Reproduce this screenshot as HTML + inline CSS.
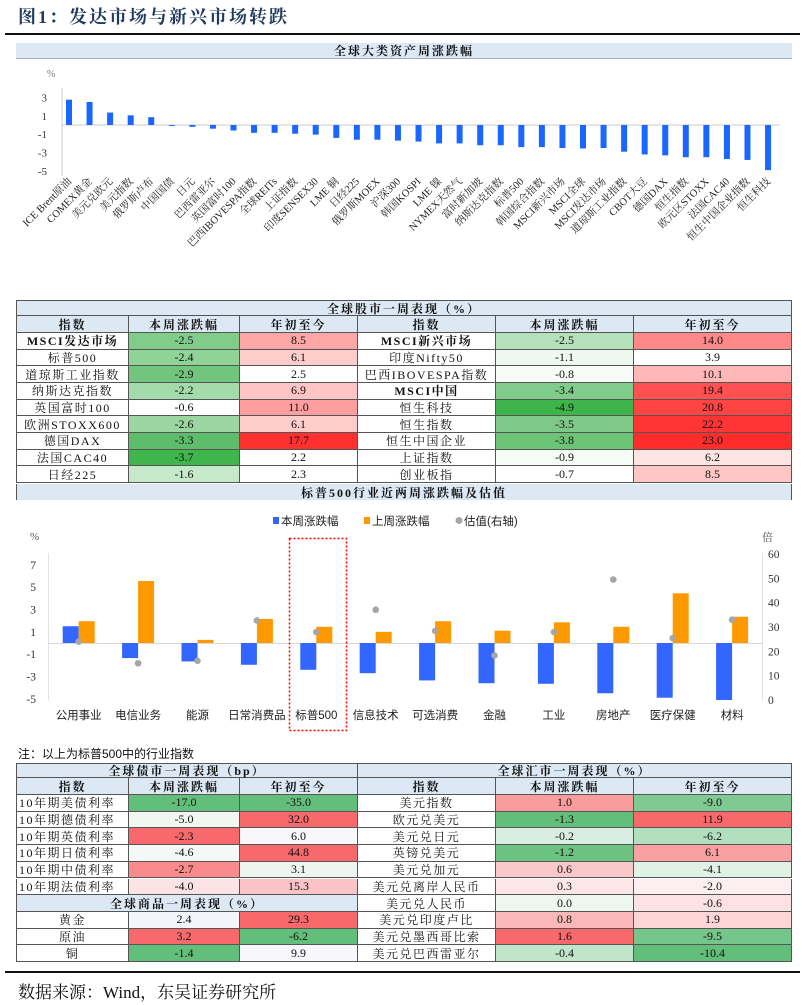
<!DOCTYPE html>
<html><head><meta charset="utf-8">
<style>
body{margin:0;background:#fff;}
#page{position:relative;width:805px;height:1005px;overflow:hidden;background:#fff;font-family:"Liberation Serif","Noto Serif CJK SC",serif;}
.c{position:absolute;box-sizing:border-box;display:flex;align-items:center;justify-content:center;font-size:12px;color:#111;white-space:nowrap;border-right:1px solid #555;border-bottom:1px solid #555;}
.band{background:#dce9f5;font-weight:bold;letter-spacing:2px;font-size:12px;}
.hd{background:#dce9f5;font-weight:bold;letter-spacing:2px;}
.nm{letter-spacing:1.5px;}
svg text{font-family:"Liberation Serif","Noto Serif CJK SC",serif;}
</style></head><body>
<div id="page">
<div style="position:absolute;left:18px;top:3px;font-size:18px;font-weight:bold;color:#1f3a5f;letter-spacing:2px;font-family:'Liberation Serif','Noto Serif CJK SC',serif;">图1：发达市场与新兴市场转跌</div>
<div style="position:absolute;left:5px;top:33px;width:795px;height:2px;background:#111;"></div>
<div class="c band" style="left:16px;top:43px;width:776px;height:16px;border:none;border-bottom:1px solid #aab;">全球大类资产周涨跌幅</div>
<svg id="top" style="position:absolute;left:0;top:0" width="805" height="300"></svg>
<div id="t1"></div>
<svg id="mid" style="position:absolute;left:0;top:0" width="805" height="760"></svg>
<div style="position:absolute;left:18px;top:745px;font-size:12px;font-family:'Liberation Sans','Noto Sans CJK SC',sans-serif;color:#111;">注：以上为标普500中的行业指数</div>
<div id="t2"></div>
<div style="position:absolute;left:5px;top:971px;width:795px;height:2px;background:#111;"></div>
<div style="position:absolute;left:18px;top:978px;font-size:17px;color:#111;font-family:'Liberation Serif','Noto Serif CJK SC',serif;">数据来源：Wind，东吴证券研究所</div>
</div>
<script>
// ---- top chart data ----
const assetNames=["ICE Brent原油","COMEX黄金","美元兑欧元","美元指数","俄罗斯卢布","中国国债","日元","巴西雷亚尔","英国富时100","巴西IBOVESPA指数","全球REITs","上证指数","印度SENSEX30","LME 铜","日经225","俄罗斯MOEX","沪深300","韩国KOSPI","LME 镍","NYMEX天然气","富时新加坡","纳斯达克指数","标普500","韩国综合指数","MSCI新兴市场","MSCI全球","MSCI发达市场","道琼斯工业指数","CBOT大豆","德国DAX","恒生指数","欧元区STOXX","法国CAC40","恒生中国企业指数","恒生科技"];
const assetValues=[2.75,2.5,1.35,1.05,0.85,-0.1,-0.2,-0.4,-0.6,-0.85,-0.85,-0.95,-1.05,-1.4,-1.6,-1.6,-1.7,-1.8,-2.0,-2.0,-2.2,-2.2,-2.4,-2.4,-2.5,-2.55,-2.5,-2.9,-3.2,-3.3,-3.5,-3.5,-3.7,-3.8,-4.9];
const topTicks=[3,1,-1,-3,-5];
// ---- middle chart data ----
const sectors=["公用事业","电信业务","能源","日常消费品","标普500","信息技术","可选消费","金融","工业","房地产","医疗保健","材料"];
const thisWeek=[1.5,-1.35,-1.65,-1.95,-2.4,-2.7,-3.35,-3.6,-3.65,-4.5,-4.9,-5.1];
const lastWeek=[1.95,5.55,0.28,2.15,1.45,1.0,1.95,1.1,1.85,1.45,4.45,2.35];
const valuation=[24,15.1,16.1,32.7,27.9,37.1,28.4,18.3,27.9,49.5,25.4,33];
const leftTicks=[7,5,3,1,-1,-3,-5];
const rightTicks=[60,50,40,30,20,10,0];

const NS="http://www.w3.org/2000/svg";
function mk(p,tag,a){const e=document.createElementNS(NS,tag);for(const k in a)e.setAttribute(k,a[k]);p.appendChild(e);return e;}

// top chart
(function(){
const s=document.getElementById('top');
const y=v=>125-v*9.2, x=i=>69+i*20.56;
let e=mk(s,'line',{x1:62,y1:88,x2:62,y2:176,stroke:'#ccc'});

e=mk(s,'line',{x1:62,y1:125,x2:780,y2:125,stroke:'#ccc'});

e=mk(s,'text',{x:47,y:77,'font-size':10,fill:'#777'});e.textContent='%';

topTicks.forEach(t=>{const tx=mk(s,'text',{x:47,y:y(t)+4,'font-size':11,'text-anchor':'end',fill:'#333'});tx.textContent=t;
});
assetValues.forEach((v,i)=>{
const b=mk(s,'rect',{x:x(i)-3,y:Math.min(y(v),y(0)),width:6,height:Math.abs(y(v)-y(0)),fill:'#1a66ff'});

const t=mk(s,'text',{x:x(i)+3,y:182,'font-size':10.5,'text-anchor':'end',fill:'#222',transform:`rotate(-45 ${x(i)+3} 182)`});
t.textContent=assetNames[i];

});
})();

// cell helper
function cell(par,x,y,w,h,txt,bg,cls,bold){
const d=document.createElement('div');d.className='c '+(cls||'');
d.style.left=x+'px';d.style.top=y+'px';d.style.width=w+'px';d.style.height=h+'px';
if(bg)d.style.background=bg;if(bold)d.style.fontWeight='bold';
d.textContent=txt;


document.getElementById('page').appendChild(d);return d;}

// table 1
const cols=[16,129,240,358,496,634,792];
(function(){
const top=300;
let b=cell(null,16,top,776,16,'全球股市一周表现（%）','#dce9f5','band');b.style.borderLeft='1px solid #555';b.style.borderTop='1px solid #555';

const hdr=['指数','本周涨跌幅','年初至今','指数','本周涨跌幅','年初至今'];
hdr.forEach((h,i)=>{const c=cell(null,cols[i],top+16,cols[i+1]-cols[i],17,h,'#dce9f5','hd');if(i==0)c.style.borderLeft='1px solid #555';});
const rows=[
["MSCI发达市场","-2.5","#80cd8a","8.5","#ffa6a6","MSCI新兴市场","-2.5","#b4e1b9","14.0","#ff8888",1,1],
["标普500","-2.4","#90d397","6.1","#ffcccc","印度Nifty50","-1.1","#eff8f0","3.9","#fff"],
["道琼斯工业指数","-2.9","#72c57d","2.5","#fff","巴西IBOVESPA指数","-0.8","#f8fcf8","10.1","#ffb8b8"],
["纳斯达克指数","-2.2","#a4dbaa","6.9","#ffc4c4","MSCI中国","-3.4","#80cc8a","19.4","#ff5151",0,1],
["英国富时100","-0.6","#fff","11.0","#ff9e9e","恒生科技","-4.9","#3db54a","20.8","#ff4444"],
["欧洲STOXX600","-2.6","#9bd6a1","6.1","#ffcccc","恒生指数","-3.5","#7ec888","22.2","#ff3535"],
["德国DAX","-3.3","#5ebd6a","17.7","#ff3030","恒生中国企业","-3.8","#6cc477","23.0","#ff2c2c"],
["法国CAC40","-3.7","#3fb54c","2.2","#fff","上证指数","-0.9","#f5fbf5","6.2","#ffe4e4"],
["日经225","-1.6","#c6e9ca","2.3","#fff","创业板指","-0.7","#fff","8.5","#ffc6c6"]];
rows.forEach((r,j)=>{const y=top+33+j*16.67;
const a=cell(null,cols[0],y,cols[1]-cols[0],16.67,r[0],'#fff','nm',r[10]);a.style.borderLeft='1px solid #555';
cell(null,cols[1],y,cols[2]-cols[1],16.67,r[1],r[2]);
cell(null,cols[2],y,cols[3]-cols[2],16.67,r[3],r[4]);
cell(null,cols[3],y,cols[4]-cols[3],16.67,r[5],'#fff','nm',r[11]);
cell(null,cols[4],y,cols[5]-cols[4],16.67,r[6],r[7]);
cell(null,cols[5],y,cols[6]-cols[5],16.67,r[8],r[9]);});
b=cell(null,16,484,776,16,'标普500行业近两周涨跌幅及估值','#dce9f5','band');b.style.borderLeft='1px solid #555';b.style.borderBottom='none';

})();

// middle chart
(function(){
const s=document.getElementById('mid');
const y=v=>643-v*11.17, yr=v=>700-v*2.433, xc=i=>49+29.7+i*59.4;
let e=mk(s,'line',{x1:48.5,y1:553,x2:48.5,y2:700,stroke:'#e2e2e2'});

e=mk(s,'line',{x1:762.5,y1:553,x2:762.5,y2:700,stroke:'#e2e2e2'});

e=mk(s,'line',{x1:49,y1:643.5,x2:762,y2:643.5,stroke:'#d8d8d8'});

leftTicks.forEach(t=>{const tx=mk(s,'text',{x:36,y:y(t)+4,'font-size':11.5,'text-anchor':'end',fill:'#333'});tx.textContent=t;
});
rightTicks.forEach(t=>{const tx=mk(s,'text',{x:768,y:yr(t)+4,'font-size':11.5,fill:'#333'});tx.textContent=t;
});
e=mk(s,'text',{x:30,y:540,'font-size':11,fill:'#555'});e.textContent='%';

e=mk(s,'text',{x:762,y:541,'font-size':11,fill:'#555'});e.textContent='倍';

sectors.forEach((n,i)=>{
const c=xc(i);
let r=mk(s,'rect',{x:c-16,y:Math.min(y(thisWeek[i]),y(0)),width:16,height:Math.abs(y(thisWeek[i])-y(0)),fill:'#3366ff'});

r=mk(s,'rect',{x:c,y:Math.min(y(lastWeek[i]),y(0)),width:16,height:Math.abs(y(lastWeek[i])-y(0)),fill:'#ff9900'});

r=mk(s,'circle',{cx:c,cy:yr(valuation[i]),r:3.3,fill:'#a6a6a6'});

const t=mk(s,'text',{x:c,y:719,'font-size':11.5,'text-anchor':'middle',fill:'#222',style:"font-family:'Liberation Sans','Noto Sans CJK SC',sans-serif"});t.textContent=n;

});
e=mk(s,'rect',{x:289.5,y:538.5,width:57,height:192,fill:'none',stroke:'#ff0000','stroke-width':1.5,'stroke-dasharray':'2,2'});

const lg=[[273,'#3366ff','本周涨跌幅','r'],[364,'#ff9900','上周涨跌幅','r'],[456,'#a6a6a6','估值(右轴)','c']];
lg.forEach(l=>{let m=l[3]=='r'?mk(s,'rect',{x:l[0],y:517,width:6,height:7,fill:l[1]}):mk(s,'circle',{cx:l[0]+3,cy:520.5,r:3.5,fill:l[1]});

const t=mk(s,'text',{x:l[0]+8,y:525,'font-size':11.5,fill:'#222',style:"font-family:'Liberation Sans','Noto Sans CJK SC',sans-serif"});t.textContent=l[2];
});
})();

// bottom tables
(function(){
const top=763,H=16.7;
let b=cell(null,16,top,342,15,'全球债市一周表现（bp）','#dce9f5','band');b.style.borderLeft='1px solid #555';b.style.borderTop='1px solid #555';

b=cell(null,358,top,434,15,'全球汇市一周表现（%）','#dce9f5','band');b.style.borderTop='1px solid #555';

const hdr=['指数','本周涨跌幅','年初至今','指数','本周涨跌幅','年初至今'];
hdr.forEach((h,i)=>{const c=cell(null,cols[i],top+15,cols[i+1]-cols[i],17,h,'#dce9f5','hd');if(i==0)c.style.borderLeft='1px solid #555';});
const y0=top+32;
const bonds=[["10年期美债利率","-17.0","#63be7b","-35.0","#63be7b"],["10年期德债利率","-5.0","#f1f6f2","32.0","#f8696b"],["10年期英债利率","-2.3","#f8696b","6.0","#f8f8fc"],["10年期日债利率","-4.6","#f5f8f7","44.8","#f8696b"],["10年期中债利率","-2.7","#f98b8c","3.1","#eef5f0"],["10年期法债利率","-4.0","#fce4e6","15.3","#fbc3c5"]];
bonds.forEach((r,j)=>{const y=y0+j*H;
const a=cell(null,cols[0],y,cols[1]-cols[0],H,r[0],'#fff','nm');a.style.borderLeft='1px solid #555';a.style.justifyContent='flex-start';a.style.paddingLeft='2px';
cell(null,cols[1],y,cols[2]-cols[1],H,r[1],r[2]);cell(null,cols[2],y,cols[3]-cols[2],H,r[3],r[4]);});
b=cell(null,16,y0+6*H,342,H,'全球商品一周表现（%）','#dce9f5','band');b.style.borderLeft='1px solid #555';

const com=[["黄金","2.4","#f4f5fc","29.3","#f8696b"],["原油","3.2","#f8696b","-6.2","#63be7b"],["铜","-1.4","#63be7b","9.9","#f8f8fc"]];
com.forEach((r,j)=>{const y=y0+(7+j)*H;
const a=cell(null,cols[0],y,cols[1]-cols[0],H,r[0],'#fff','nm');a.style.borderLeft='1px solid #555';
cell(null,cols[1],y,cols[2]-cols[1],H,r[1],r[2]);cell(null,cols[2],y,cols[3]-cols[2],H,r[3],r[4]);});
const fx=[["美元指数","1.0","#fa9c9e","-9.0","#7fc993"],["欧元兑美元","-1.3","#63be7b","11.9","#f8696b"],["美元兑日元","-0.2","#d9eee0","-6.2","#b2dfbd"],["英镑兑美元","-1.2","#6bc281","6.1","#f9a0a2"],["美元兑加元","0.6","#fbc8ca","-4.1","#e0f1e5"],["美元兑离岸人民币","0.3","#fce6e8","-2.0","#fbeff1"],["美元兑人民币","0.0","#eef6f0","-0.6","#fce2e4"],["美元兑印度卢比","0.8","#fbb8ba","1.9","#fcd5d7"],["美元兑墨西哥比索","1.6","#f8696b","-9.5","#76c68c"],["美元兑巴西雷亚尔","-0.4","#c0e5c9","-10.4","#63be7b"]];
fx.forEach((r,j)=>{const y=y0+j*H;
cell(null,cols[3],y,cols[4]-cols[3],H,r[0],'#fff','nm');
cell(null,cols[4],y,cols[5]-cols[4],H,r[1],r[2]);cell(null,cols[5],y,cols[6]-cols[5],H,r[3],r[4]);});
})();
</script>
</body></html>
